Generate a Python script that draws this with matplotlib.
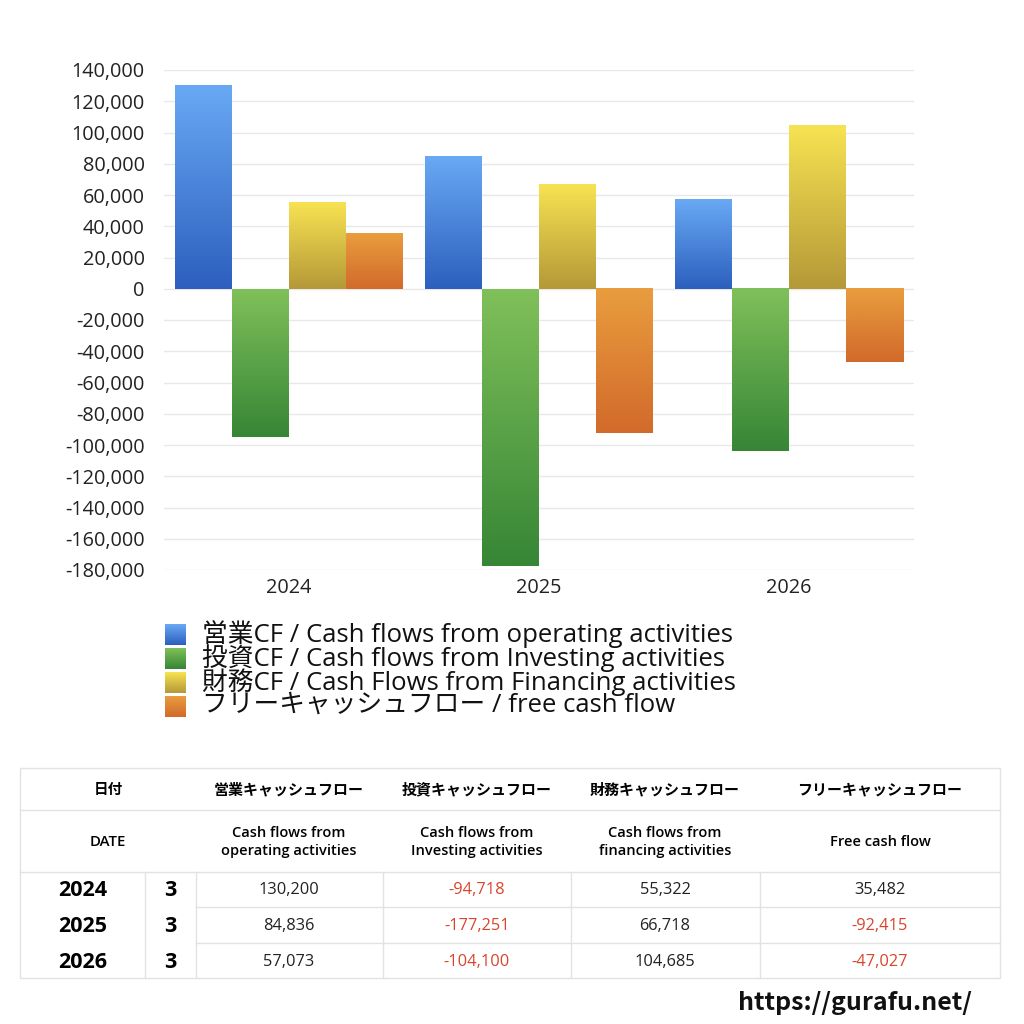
import numpy as np
import matplotlib.pyplot as plt
from matplotlib.colors import LinearSegmentedColormap
from matplotlib.patches import Rectangle

plt.rcParams['font.family'] = ['Open Sans', 'Noto Sans CJK JP', 'DejaVu Sans']
CJK = ['Noto Sans CJK JP', 'DejaVu Sans']

years = ['2024', '2025', '2026']
months = ['3', '3', '3']
operating = [130200, 84836, 57073]
investing = [-94718, -177251, -104100]
financing = [55322, 66718, 104685]
free_cf = [35482, -92415, -47027]

series_labels = [
    '営業CF / Cash flows from operating activities',
    '投資CF / Cash flows from Investing activities',
    '財務CF / Cash Flows from Financing activities',
    'フリーキャッシュフロー / free cash flow',
]
head_jp = ['営業キャッシュフロー', '投資キャッシュフロー', '財務キャッシュフロー', 'フリーキャッシュフロー']
head_en = ['Cash flows from\noperating activities', 'Cash flows from\nInvesting activities',
           'Cash flows from\nfinancing activities', 'Free cash flow']

# (top colour, bottom colour) for each series gradient
grads = [('#69a9f4', '#2c5fbe'), ('#80c05a', '#368636'),
         ('#f7e352', '#b59838'), ('#e99d3e', '#d26a2b')]

W = H = 1024
fig = plt.figure(figsize=(W / 100, H / 100), dpi=100)


def px(x0, y0, w, h):
    return [x0 / W, 1 - (y0 + h) / H, w / W, h / H]


ax = fig.add_axes(px(164, 70, 750, 500))

x = np.arange(len(years))
bw = 0.228
data = [operating, investing, financing, free_cf]
for i, vals in enumerate(data):
    bars = ax.bar(x + (i - 1.5) * bw, vals, bw, color='none', linewidth=0)
    cmap = LinearSegmentedColormap.from_list('g%d' % i, [grads[i][1], grads[i][0]])
    grad = np.linspace(0, 1, 256).reshape(-1, 1)
    for b in bars:
        x0, y0 = b.get_x(), b.get_y()
        w, h = b.get_width(), b.get_height()
        ylo, yhi = min(y0, y0 + h), max(y0, y0 + h)
        ax.imshow(grad, cmap=cmap, origin='lower', aspect='auto',
                  extent=(x0, x0 + w, ylo, yhi), zorder=2)

ax.set_xlim(-0.5, 2.5)
ax.set_ylim(-180000, 140000)
ax.set_yticks(np.arange(-180000, 140001, 20000))
ax.set_yticklabels(['{:,}'.format(v) for v in range(-180000, 140001, 20000)])
ax.set_xticks(x)
ax.set_xticklabels(years)
ax.tick_params(length=0, labelsize=14.3, colors='#222222', pad=14)
ax.tick_params(axis='x', pad=6)
ax.grid(axis='y', color='#e8e8e8', linewidth=1)
ax.set_axisbelow(True)
for s in ax.spines.values():
    s.set_visible(False)

# legend + table drawn in pixel space
ov = fig.add_axes([0, 0, 1, 1])
ov.set_xlim(0, W)
ov.set_ylim(H, 0)
ov.axis('off')

leg_top, leg_step = 634, 24
for i in range(len(series_labels)):
    yc = leg_top + i * leg_step
    cmap = LinearSegmentedColormap.from_list('l%d' % i, [grads[i][0], grads[i][1]])
    ov.imshow(np.linspace(0, 1, 64).reshape(-1, 1), cmap=cmap, aspect='auto',
              extent=(165, 186, yc + 11, yc - 10))

# legend labels as one multi-line text, line spacing tuned to 24 px
rend = fig.canvas.get_renderer()
probe = ov.text(0, 0, series_labels[0], fontsize=18.5)
h1 = probe.get_window_extent(rend).height
probe.set_text('\n'.join(series_labels[:3]))
lo, hi = 0.3, 1.6
for _ in range(30):
    mid = (lo + hi) / 2
    probe.set_linespacing(mid)
    if probe.get_window_extent(rend).height > 2 * leg_step + h1:
        hi = mid
    else:
        lo = mid
probe.remove()
ov.text(202, leg_top - h1 / 2, '\n'.join(series_labels), fontsize=18.5, va='top',
        ha='left', color='#111111', linespacing=mid)

# table
line_c = '#e2e2e2'
tx0, tx1 = 20, 1000
ty0, ty1 = 768, 978
ov.add_patch(Rectangle((tx0, ty0), tx1 - tx0, ty1 - ty0, fill=False, ec=line_c, lw=1))
ov.plot([tx0, tx1], [810, 810], color=line_c, lw=1)
ov.plot([tx0, tx1], [872, 872], color=line_c, lw=1)
for yy in [907, 943]:
    ov.plot([196, tx1], [yy, yy], color=line_c, lw=1)
for xx in [145, 196, 383, 571, 760]:
    ov.plot([xx, xx], [872, ty1], color=line_c, lw=1)

col_c = [289, 477, 665, 880]
ov.text(108, 789, '日付', fontsize=10.5, weight='bold', ha='center', va='center', family=CJK)
ov.text(108, 842, 'DATE', fontsize=10.8, weight='semibold', ha='center', va='center')
for c, jp, en in zip(col_c, head_jp, head_en):
    ov.text(c, 789, jp, fontsize=10.8, weight='bold', ha='center', va='center', family=CJK)
    ov.text(c, 842, en, fontsize=10.5, weight='semibold', ha='center', va='center',
            linespacing=1.4)

row_y = [890, 926, 962]
for r in range(len(years)):
    ov.text(83, row_y[r], years[r], fontsize=15.5, weight='bold', ha='center', va='center')
    ov.text(170, row_y[r], months[r], fontsize=15.5, weight='bold', ha='center', va='center')
    for c, vals in zip(col_c, data):
        v = vals[r]
        ov.text(c, row_y[r], '{:,}'.format(v), fontsize=11.8, ha='center', va='center',
                color='#d9442b' if v < 0 else '#222222')

ov.text(972, 1003, 'https://gurafu.net/', fontsize=18, weight='bold', ha='right',
        va='center', color='#111111', family=CJK)

fig.savefig('out.png', dpi=100)
